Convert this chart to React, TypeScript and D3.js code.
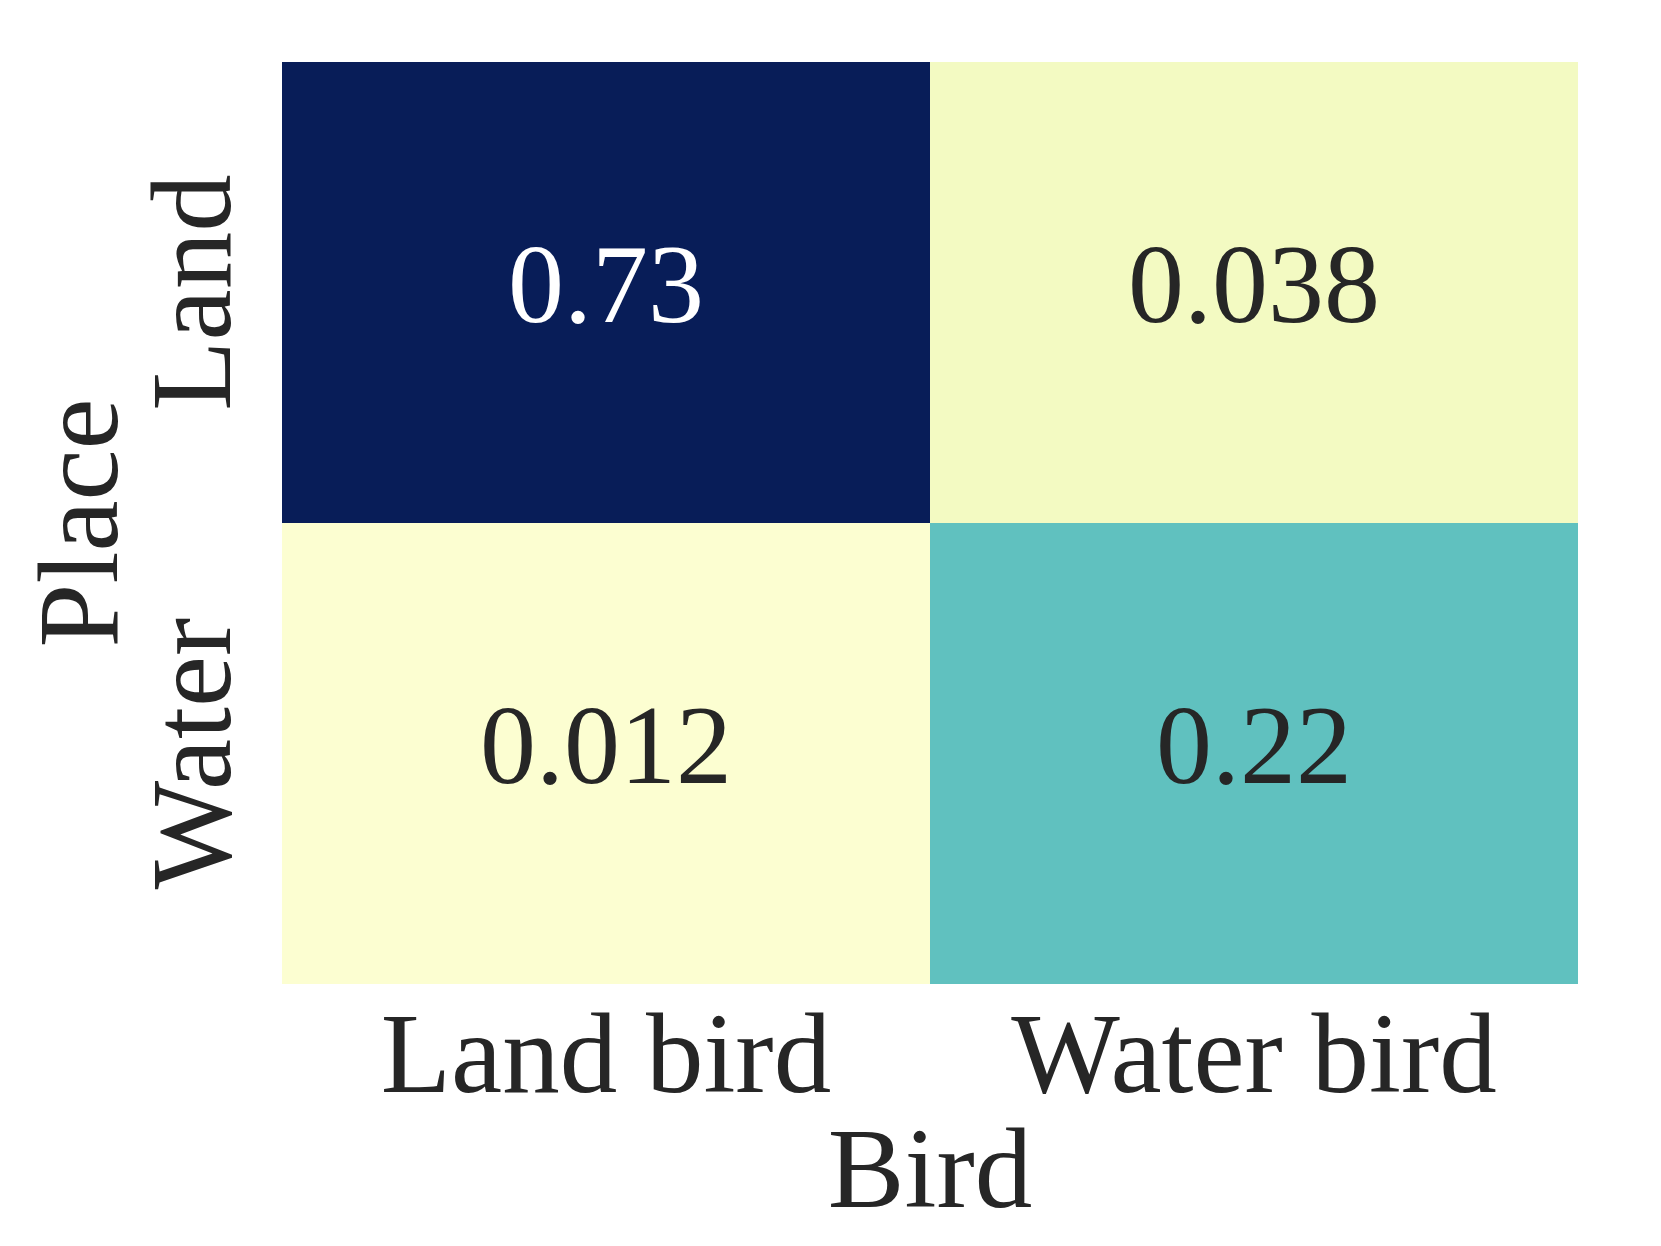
import React, { useEffect, useRef } from "react";
import * as d3 from "d3";

const birds = ["Land bird", "Water bird"];
const places = ["Land", "Water"];
// rows = place, columns = bird
const landRow = [0.73, 0.038];
const waterRow = [0.012, 0.22];
const labels = [
  ["0.73", "0.038"],
  ["0.012", "0.22"],
];
const colorMax = 0.5; // colour scale saturates here

const width = 1661;
const height = 1246;
const margin = { top: 62, right: 83, bottom: 262, left: 282 };
const font = "'Liberation Serif', 'Times New Roman', serif";
const ink = "#262626";

const App = () => {
  const svgRef = useRef<SVGSVGElement>(null);

  useEffect(() => {
    const svg = d3.select(svgRef.current);
    svg.selectAll("*").remove();

    const rows = [landRow, waterRow];
    const cells = rows.flatMap((row, i) =>
      row.map((v, j) => ({ place: places[i], bird: birds[j], v, label: labels[i][j] }))
    );

    const x = d3
      .scaleBand()
      .domain(birds)
      .range([margin.left, width - margin.right]);
    const y = d3
      .scaleBand()
      .domain(places)
      .range([margin.top, height - margin.bottom]);

    const color = d3
      .scaleSequential(d3.interpolateYlGnBu)
      .domain([0, colorMax])
      .clamp(true);

    const g = svg.append("g");
    g.selectAll("rect")
      .data(cells)
      .join("rect")
      .attr("x", (d) => x(d.bird)!)
      .attr("y", (d) => y(d.place)!)
      .attr("width", x.bandwidth())
      .attr("height", y.bandwidth())
      .attr("fill", (d) => color(d.v));

    g.selectAll("text.annot")
      .data(cells)
      .join("text")
      .attr("class", "annot")
      .attr("x", (d) => x(d.bird)! + x.bandwidth() / 2)
      .attr("y", (d) => y(d.place)! + y.bandwidth() / 2 + 29)
      .attr("text-anchor", "middle")
      .attr("font-family", font)
      .attr("font-size", 112)
      .attr("fill", (d) => (d.v / colorMax > 0.6 ? "#ffffff" : ink))
      .text((d) => d.label);

    // x tick labels
    svg
      .append("g")
      .selectAll("text")
      .data(birds)
      .join("text")
      .attr("x", (d) => x(d)! + x.bandwidth() / 2)
      .attr("y", height - margin.bottom + 108)
      .attr("text-anchor", "middle")
      .attr("font-family", font)
      .attr("font-size", 115)
      .attr("fill", ink)
      .text((d) => d);

    // y tick labels
    svg
      .append("g")
      .selectAll("text")
      .data(places)
      .join("text")
      .attr(
        "transform",
        (d) => `translate(230,${y(d)! + y.bandwidth() / 2}) rotate(-90)`
      )
      .attr("text-anchor", "middle")
      .attr("font-family", font)
      .attr("font-size", 115)
      .attr("fill", ink)
      .text((d) => d);

    // axis titles
    svg
      .append("text")
      .attr("x", (margin.left + width - margin.right) / 2)
      .attr("y", 1207)
      .attr("text-anchor", "middle")
      .attr("font-family", font)
      .attr("font-size", 115)
      .attr("fill", ink)
      .text("Bird");

    svg
      .append("text")
      .attr(
        "transform",
        `translate(117,${(margin.top + height - margin.bottom) / 2}) rotate(-90)`
      )
      .attr("text-anchor", "middle")
      .attr("font-family", font)
      .attr("font-size", 115)
      .attr("fill", ink)
      .text("Place");
  }, []);

  return (
    <div style={{ position: "absolute", left: 0, top: 0, background: "#fff" }}>
      <svg ref={svgRef} width={width} height={height} style={{ display: "block" }} />
    </div>
  );
};

export default App;
